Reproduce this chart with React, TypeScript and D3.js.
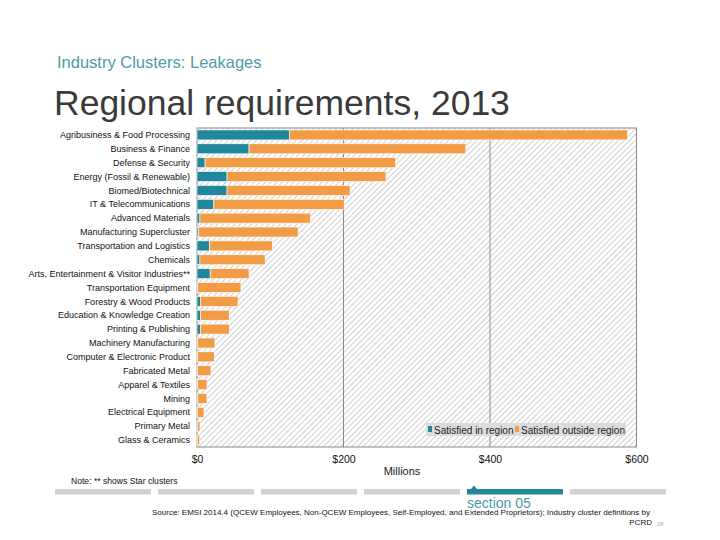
import React, { useEffect, useRef } from "react";
import { axisBottom, scaleBand, scaleLinear, select } from "d3";

// values in $ millions
const categories = [
  "Agribusiness & Food Processing",
  "Business & Finance",
  "Defense & Security",
  "Energy (Fossil & Renewable)",
  "Biomed/Biotechnical",
  "IT & Telecommunications",
  "Advanced Materials",
  "Manufacturing Supercluster",
  "Transportation and Logistics",
  "Chemicals",
  "Arts, Entertainment & Visitor Industries**",
  "Transportation Equipment",
  "Forestry & Wood Products",
  "Education & Knowledge Creation",
  "Printing & Publishing",
  "Machinery Manufacturing",
  "Computer & Electronic Product",
  "Fabricated Metal",
  "Apparel & Textiles",
  "Mining",
  "Electrical Equipment",
  "Primary Metal",
  "Glass & Ceramics"
];
const inRegion = [126, 71, 11, 41, 41, 23, 4, 2, 17, 4, 18, 1, 4.5, 4.5, 4.5, 0.5, 1, 0.5, 1, 1, 0.3, 0.5, 0.3];
const outsideRegion = [462, 296, 260, 217, 168, 178, 151, 136, 86, 89, 53, 59, 51.5, 39.5, 39.5, 24, 22.6, 18.5, 12.6, 12.6, 9.2, 3.5, 3.4];
const xTicks = [0, 200, 400, 600];
const seriesNames = ["Satisfied in region", "Satisfied outside region"];

const TEAL = "#21889b";
const ORANGE = "#f29d45";

const App = () => {
  const svgRef = useRef<SVGSVGElement>(null);

  useEffect(() => {
    const svg = select(svgRef.current);
    const left = 197, right = 636.5, top = 128, bottom = 447;

    const xScale = scaleLinear().domain([0, 600]).range([left, right]);
    const yScale = scaleBand()
      .domain(categories)
      .range([top, bottom])
      .paddingInner(0.28)
      .paddingOuter(0.14);

    const plot = svg.select(".plot");
    plot.selectAll("*").remove();

    plot
      .append("rect")
      .attr("x", left)
      .attr("y", top)
      .attr("width", right - left)
      .attr("height", bottom - top)
      .attr("fill", "url(#hatch)");

    plot
      .selectAll(".grid")
      .data(xTicks.slice(1, -1))
      .join("line")
      .attr("class", "grid")
      .attr("x1", d => xScale(d))
      .attr("x2", d => xScale(d))
      .attr("y1", top)
      .attr("y2", bottom)
      .attr("stroke", "#8a8a8a")
      .attr("stroke-width", 1);

    plot
      .append("rect")
      .attr("x", left)
      .attr("y", top)
      .attr("width", right - left)
      .attr("height", bottom - top)
      .attr("fill", "none")
      .attr("stroke", "#8a8a8a");

    plot
      .selectAll(".in")
      .data(inRegion)
      .join("rect")
      .attr("class", "in")
      .attr("x", xScale(0))
      .attr("y", (v, i) => yScale(categories[i]))
      .attr("width", v => xScale(v) - xScale(0))
      .attr("height", yScale.bandwidth())
      .attr("fill", TEAL)
      .attr("stroke", "#fff")
      .attr("stroke-width", 0.6);

    plot
      .selectAll(".out")
      .data(outsideRegion)
      .join("rect")
      .attr("class", "out")
      .attr("x", (v, i) => xScale(inRegion[i]))
      .attr("y", (v, i) => yScale(categories[i]))
      .attr("width", (v, i) => xScale(inRegion[i] + v) - xScale(inRegion[i]))
      .attr("height", yScale.bandwidth())
      .attr("fill", ORANGE)
      .attr("stroke", "#fff")
      .attr("stroke-width", 0.6);

    plot
      .selectAll(".cat")
      .data(categories)
      .join("text")
      .attr("class", "cat")
      .attr("x", 190)
      .attr("y", d => yScale(d) + yScale.bandwidth() / 2)
      .attr("dy", "0.35em")
      .attr("text-anchor", "end")
      .attr("font-size", 9)
      .attr("fill", "#111")
      .text(d => d);

    const xAxis = axisBottom(xScale)
      .tickValues(xTicks)
      .tickSize(0)
      .tickPadding(9)
      .tickFormat(d => "$" + d);
    const ax = svg
      .select(".x-axis")
      .attr("transform", `translate(0,${bottom})`)
      .call(xAxis);
    ax.select(".domain").remove();
    ax.selectAll("text")
      .attr("font-size", 10.5)
      .attr("font-family", "Liberation Sans, Arial, sans-serif")
      .attr("fill", "#111");

    // legend
    const lg = svg.select(".legend");
    lg.selectAll("*").remove();
    lg.append("rect")
      .attr("x", 426)
      .attr("y", 423)
      .attr("width", 200)
      .attr("height", 13)
      .attr("fill", "#dcdcdc");
    const legendX = [428, 515];
    seriesNames.forEach((name, i) => {
      lg.append("rect")
        .attr("x", legendX[i])
        .attr("y", 426)
        .attr("width", 4)
        .attr("height", 6)
        .attr("fill", i === 0 ? TEAL : ORANGE);
      lg.append("text")
        .attr("x", legendX[i] + 6)
        .attr("y", 433.5)
        .attr("font-size", 10)
        .attr("fill", "#222")
        .text(name);
    });
  }, []);

  const sectionX = [55, 158, 261, 364, 467, 570];

  return (
    <svg
      ref={svgRef}
      width={720}
      height={540}
      style={{ position: "absolute", left: 0, top: 0, background: "#fff" }}
      fontFamily="Liberation Sans, Arial, sans-serif"
    >
      <defs>
        <pattern id="hatch" width={4} height={4} patternUnits="userSpaceOnUse" patternTransform="rotate(45)">
          <rect width={4} height={4} fill="#fff" />
          <line x1={0} y1={0} x2={0} y2={4} stroke="#c4c4c4" strokeWidth={1.6} />
        </pattern>
      </defs>
      <text x={57} y={68} fontSize={16.5} fill="#4f9ca8">Industry Clusters: Leakages</text>
      <text x={54} y={115} fontSize={35.5} fill="#3a3a3a">Regional requirements, 2013</text>
      <g className="plot" />
      <g className="x-axis" />
      <g className="legend" />
      <text x={402} y={475} fontSize={11} textAnchor="middle" fill="#222">Millions</text>
      <text x={71} y={484} fontSize={8.6} fill="#111">Note: ** shows Star clusters</text>
      {sectionX.map((x, i) => (
        <rect key={i} x={x} y={489} width={96} height={5.5} fill={i === 4 ? "#24869a" : "#d2d2d2"} />
      ))}
      <path d="M471,489 L474,485.5 L477,489 Z" fill="#24869a" />
      <text x={467} y={508} fontSize={14} fill="#4f9ca8">section 05</text>
      <text x={152} y={515} fontSize={8} fill="#111">
        Source: EMSI 2014.4 (QCEW Employees, Non-QCEW Employees, Self-Employed, and Extended Proprietors); Industry cluster definitions by
      </text>
      <text x={652} y={525} fontSize={8} textAnchor="end" fill="#111">PCRD</text>
      <text x={657} y={526} fontSize={6} fill="#aaa">28</text>
    </svg>
  );
};

export default App;
